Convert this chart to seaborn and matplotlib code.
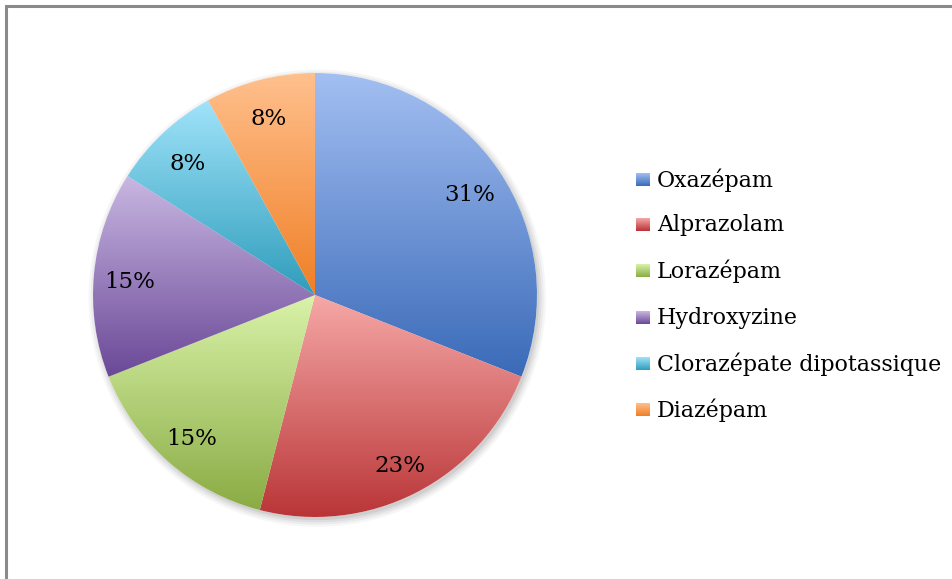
import numpy as np
import matplotlib
matplotlib.use("Agg")
import matplotlib.pyplot as plt
import seaborn as sns
from matplotlib.colors import LinearSegmentedColormap
from matplotlib.patches import Rectangle, Circle

sns.set_theme(style="white")
plt.rcParams['font.family'] = ['DejaVu Serif']

categories = ["Oxazépam", "Alprazolam", "Lorazépam", "Hydroxyzine",
              "Clorazépate dipotassique", "Diazépam"]
percentages = [31, 23, 15, 15, 8, 8]
top_colors = ["#A3BFF2", "#F6A8A7", "#D9F3A9", "#C9B7E2", "#A0E3FA", "#FFC08D"]
bottom_colors = ["#3A6AB8", "#B83234", "#8AAB44", "#6A4897", "#2F9DBB", "#F07F26"]

W, H = 953, 579
fig = plt.figure(figsize=(W / 100, H / 100), dpi=100)
fig.patch.set_facecolor("white")

# chart frame (cropped at right/bottom)
fig.patches.append(Rectangle((6 / W, -0.1), 1.2, (H - 6) / H + 0.1,
                             transform=fig.transFigure, fill=False,
                             edgecolor="#8a8a8a", linewidth=2.2))

cx, cy, R = 315, 295, 222
ax = fig.add_axes([(cx - R) / W, (H - cy - R) / H, 2 * R / W, 2 * R / H])
ax.set_xlim(-1, 1)
ax.set_ylim(-1, 1)
ax.set_aspect("equal")
ax.axis("off")

# soft shadow
for i, a in enumerate([0.035, 0.045, 0.055, 0.065]):
    ax.add_patch(Circle((0.01, -0.014), 1.0 + 0.01 * (3 - i), color="black",
                        alpha=a, lw=0, zorder=0, clip_on=False))

wedges, texts, autotexts = ax.pie(
    percentages, startangle=90, counterclock=False, radius=1.0,
    autopct=lambda p: f"{p:.0f}%", pctdistance=0.84,
    colors=["white"] * len(percentages),
    wedgeprops=dict(linewidth=0, zorder=1),
    textprops=dict(fontsize=16.5, color="black"))
for t in autotexts:
    t.set_zorder(5)
    x, y = t.get_position()
    t.set_position((x, y - 0.02))

grad = np.linspace(0, 1, 256).reshape(-1, 1)
for w, c1, c2 in zip(wedges, top_colors, bottom_colors):
    cmap = LinearSegmentedColormap.from_list("g", [c1, c2])
    pts = w.get_patch_transform().transform(w.get_path().vertices)
    x0, x1 = pts[:, 0].min(), pts[:, 0].max()
    y0, y1 = pts[:, 1].min(), pts[:, 1].max()
    im = ax.imshow(grad, cmap=cmap, extent=[x0, x1, y0, y1], origin="upper",
                   aspect="auto", zorder=2, interpolation="bilinear")
    im.set_clip_path(w)
ax.set_xlim(-1, 1)
ax.set_ylim(-1, 1)

# legend
rows_y = [180, 225, 271, 318, 364, 410]
lax = fig.add_axes([0, 0, 1, 1])
lax.set_xlim(0, W)
lax.set_ylim(H, 0)
lax.axis("off")
for name, c1, c2, y in zip(categories, top_colors, bottom_colors, rows_y):
    cmap = LinearSegmentedColormap.from_list("g", [c1, c2])
    lax.imshow(grad, cmap=cmap, extent=[636, 650, y + 6, y - 7],
               origin="upper", aspect="auto", interpolation="bilinear")
    lax.text(657, y, name, fontsize=15.9, va="center", ha="left", color="black")
lax.set_xlim(0, W)
lax.set_ylim(H, 0)

fig.savefig("out.png", dpi=100)
